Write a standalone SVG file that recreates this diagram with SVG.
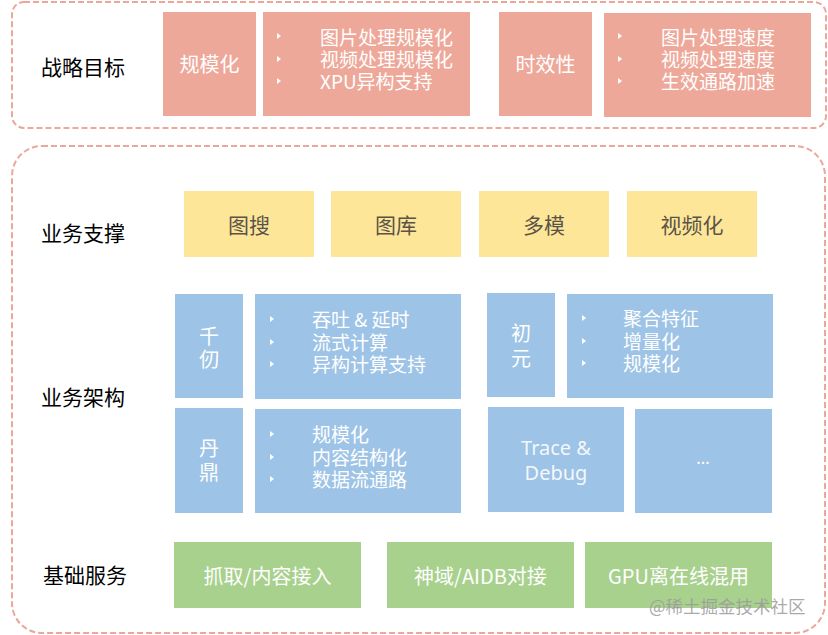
<svg xmlns="http://www.w3.org/2000/svg" width="828" height="635" viewBox="0 0 828 635">
<style>
text{font-family:"Noto Sans CJK SC","Microsoft YaHei",sans-serif;dominant-baseline:central}
.frame{fill:none;stroke:#EBA899;stroke-width:2;stroke-dasharray:6 3}
.lab{font-size:21px;fill:#000}
.red{fill:#EEA899}
.yel{fill:#FEE699}
.blu{fill:#9DC3E6}
.grn{fill:#A9D18E}
.w{fill:#fff;font-size:19px}
.wc{fill:#fff;font-size:20px;text-anchor:middle}
.yt{fill:#5A5448;font-size:21px;text-anchor:middle}
.bul{fill:#fff}
</style>
<defs>
<path id="tri" d="M0,-3 L4,0 L0,3 Z"/>
</defs>
<rect class="frame" x="12" y="2" width="814" height="126" rx="12"/>
<rect class="frame" x="12" y="146" width="813" height="487" rx="30"/>

<g id="labels">
<text class="lab" x="41" y="66">战略目标</text>
<text class="lab" x="41" y="232">业务支撑</text>
<text class="lab" x="41" y="396">业务架构</text>
<text class="lab" x="43" y="574">基础服务</text>
</g>

<g id="n-scale">
<rect class="red" x="163" y="12" width="93" height="104"/>
<text class="wc" x="209.5" y="63">规模化</text>
</g>
<g id="n-scale-items">
<rect class="red" x="263" y="12" width="207" height="104"/>
<use href="#tri" class="bul" x="277" y="36"/><use href="#tri" class="bul" x="277" y="59"/><use href="#tri" class="bul" x="277" y="81"/>
<text class="w" x="320" y="36">图片处理规模化</text>
<text class="w" x="320" y="58">视频处理规模化</text>
<text class="w" x="320" y="80">XPU异构支持</text>
</g>
<g id="n-time">
<rect class="red" x="499" y="12" width="93" height="104"/>
<text class="wc" x="545.5" y="63">时效性</text>
</g>
<g id="n-time-items">
<rect class="red" x="604" y="13" width="207" height="104"/>
<use href="#tri" class="bul" x="618" y="36"/><use href="#tri" class="bul" x="618" y="59"/><use href="#tri" class="bul" x="618" y="81"/>
<text class="w" x="661" y="36">图片处理速度</text>
<text class="w" x="661" y="58">视频处理速度</text>
<text class="w" x="661" y="80">生效通路加速</text>
</g>

<g id="n-tusou"><rect class="yel" x="184" y="191" width="130" height="66"/><text class="yt" x="249" y="224">图搜</text></g>
<g id="n-tuku"><rect class="yel" x="331" y="191" width="130" height="66"/><text class="yt" x="396" y="224">图库</text></g>
<g id="n-duomo"><rect class="yel" x="479" y="191" width="130" height="66"/><text class="yt" x="544" y="224">多模</text></g>
<g id="n-video"><rect class="yel" x="627" y="191" width="130" height="66"/><text class="yt" x="692" y="224">视频化</text></g>

<g id="n-qianren">
<rect class="blu" x="175" y="294" width="68" height="104"/>
<text class="wc" x="209" y="335">千</text><text class="wc" x="209" y="358">仞</text>
</g>
<g id="n-qianren-items">
<rect class="blu" x="255" y="294" width="206" height="105"/>
<use href="#tri" class="bul" x="270" y="319"/><use href="#tri" class="bul" x="270" y="342"/><use href="#tri" class="bul" x="270" y="364"/>
<text class="w" x="312" y="318">吞吐 &amp; 延时</text>
<text class="w" x="312" y="341">流式计算</text>
<text class="w" x="312" y="363">异构计算支持</text>
</g>
<g id="n-danding">
<rect class="blu" x="175" y="408" width="68" height="105"/>
<text class="wc" x="209" y="447">丹</text><text class="wc" x="209" y="471">鼎</text>
</g>
<g id="n-danding-items">
<rect class="blu" x="255" y="409" width="206" height="104"/>
<use href="#tri" class="bul" x="270" y="434"/><use href="#tri" class="bul" x="270" y="457"/><use href="#tri" class="bul" x="270" y="479"/>
<text class="w" x="312" y="433">规模化</text>
<text class="w" x="312" y="456">内容结构化</text>
<text class="w" x="312" y="478">数据流通路</text>
</g>
<g id="n-chuyuan">
<rect class="blu" x="487" y="293" width="68" height="104"/>
<text class="wc" x="521" y="332">初</text><text class="wc" x="521" y="357">元</text>
</g>
<g id="n-chuyuan-items">
<rect class="blu" x="567" y="294" width="206" height="104"/>
<use href="#tri" class="bul" x="582" y="318"/><use href="#tri" class="bul" x="582" y="341"/><use href="#tri" class="bul" x="582" y="363"/>
<text class="w" x="623" y="317">聚合特征</text>
<text class="w" x="623" y="340">增量化</text>
<text class="w" x="623" y="362">规模化</text>
</g>
<g id="n-trace">
<rect class="blu" x="488" y="407" width="136" height="105"/>
<text class="wc" x="556" y="447" fill-opacity="0.9" style="font-family:'Noto Sans',sans-serif">Trace &amp;</text>
<text class="wc" x="556" y="472" fill-opacity="0.9" style="font-family:'Noto Sans',sans-serif">Debug</text>
</g>
<g id="n-more">
<rect class="blu" x="635" y="409" width="137" height="104"/>
<text class="wc" x="703" y="457" style="font-size:16px">...</text>
</g>

<g id="n-crawl"><rect class="grn" x="174" y="542" width="187" height="66"/><text class="wc" x="267.5" y="575">抓取/内容接入</text></g>
<g id="n-aidb"><rect class="grn" x="387" y="542" width="187" height="66"/><text class="wc" x="480.5" y="575">神域/AIDB对接</text></g>
<g id="n-gpu"><rect class="grn" x="585" y="542" width="187" height="66"/><text class="wc" x="678.5" y="575">GPU离在线混用</text></g>

<g id="connectors"></g>

<text x="649" y="605" style="font-size:17.5px;fill:#9a9a9a;fill-opacity:0.85">@稀土掘金技术社区</text>
</svg>
